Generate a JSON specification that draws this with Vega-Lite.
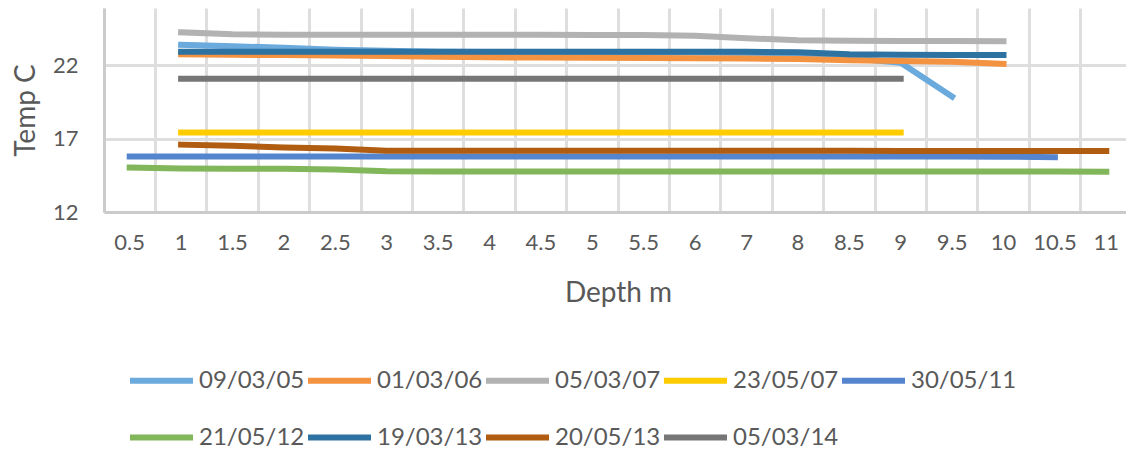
{
  "$schema": "https://vega.github.io/schema/vega-lite/v6.json",
  "width": 1022,
  "height": 204,
  "autosize": {"type": "none"},
  "padding": {"left": 104, "top": 8, "right": 0, "bottom": 241},
  "background": "white",
  "config": {
    "font": "Lato",
    "view": {"stroke": null}
  },
  "data": {
    "values": [
      {"date": "09/03/05", "depth": 1, "temp": 23.39},
      {"date": "09/03/05", "depth": 1.5, "temp": 23.29},
      {"date": "09/03/05", "depth": 2, "temp": 23.2},
      {"date": "09/03/05", "depth": 2.5, "temp": 23.06},
      {"date": "09/03/05", "depth": 3, "temp": 22.98},
      {"date": "09/03/05", "depth": 3.5, "temp": 22.92},
      {"date": "09/03/05", "depth": 4, "temp": 22.9},
      {"date": "09/03/05", "depth": 4.5, "temp": 22.89},
      {"date": "09/03/05", "depth": 5, "temp": 22.88},
      {"date": "09/03/05", "depth": 5.5, "temp": 22.87},
      {"date": "09/03/05", "depth": 6, "temp": 22.86},
      {"date": "09/03/05", "depth": 7, "temp": 22.83},
      {"date": "09/03/05", "depth": 8, "temp": 22.78},
      {"date": "09/03/05", "depth": 8.5, "temp": 22.5},
      {"date": "09/03/05", "depth": 9, "temp": 22.17},
      {"date": "09/03/05", "depth": 9.5, "temp": 19.86},

      {"date": "01/03/06", "depth": 1, "temp": 22.75},
      {"date": "01/03/06", "depth": 1.5, "temp": 22.71},
      {"date": "01/03/06", "depth": 2, "temp": 22.69},
      {"date": "01/03/06", "depth": 2.5, "temp": 22.67},
      {"date": "01/03/06", "depth": 3, "temp": 22.63},
      {"date": "01/03/06", "depth": 3.5, "temp": 22.58},
      {"date": "01/03/06", "depth": 4, "temp": 22.54},
      {"date": "01/03/06", "depth": 4.5, "temp": 22.52},
      {"date": "01/03/06", "depth": 5, "temp": 22.51},
      {"date": "01/03/06", "depth": 5.5, "temp": 22.5},
      {"date": "01/03/06", "depth": 6, "temp": 22.48},
      {"date": "01/03/06", "depth": 7, "temp": 22.46},
      {"date": "01/03/06", "depth": 8, "temp": 22.42},
      {"date": "01/03/06", "depth": 8.5, "temp": 22.34},
      {"date": "01/03/06", "depth": 9, "temp": 22.29},
      {"date": "01/03/06", "depth": 9.5, "temp": 22.24},
      {"date": "01/03/06", "depth": 10, "temp": 22.1},

      {"date": "05/03/07", "depth": 1, "temp": 24.24},
      {"date": "05/03/07", "depth": 1.5, "temp": 24.11},
      {"date": "05/03/07", "depth": 2, "temp": 24.07},
      {"date": "05/03/07", "depth": 2.5, "temp": 24.07},
      {"date": "05/03/07", "depth": 3, "temp": 24.07},
      {"date": "05/03/07", "depth": 3.5, "temp": 24.07},
      {"date": "05/03/07", "depth": 4, "temp": 24.07},
      {"date": "05/03/07", "depth": 4.5, "temp": 24.07},
      {"date": "05/03/07", "depth": 5, "temp": 24.06},
      {"date": "05/03/07", "depth": 5.5, "temp": 24.06},
      {"date": "05/03/07", "depth": 6, "temp": 24.01},
      {"date": "05/03/07", "depth": 7, "temp": 23.84},
      {"date": "05/03/07", "depth": 8, "temp": 23.7},
      {"date": "05/03/07", "depth": 8.5, "temp": 23.67},
      {"date": "05/03/07", "depth": 9, "temp": 23.65},
      {"date": "05/03/07", "depth": 9.5, "temp": 23.65},
      {"date": "05/03/07", "depth": 10, "temp": 23.63},

      {"date": "23/05/07", "depth": 1, "temp": 17.41},
      {"date": "23/05/07", "depth": 1.5, "temp": 17.41},
      {"date": "23/05/07", "depth": 2, "temp": 17.41},
      {"date": "23/05/07", "depth": 2.5, "temp": 17.41},
      {"date": "23/05/07", "depth": 3, "temp": 17.41},
      {"date": "23/05/07", "depth": 3.5, "temp": 17.41},
      {"date": "23/05/07", "depth": 4, "temp": 17.41},
      {"date": "23/05/07", "depth": 4.5, "temp": 17.41},
      {"date": "23/05/07", "depth": 5, "temp": 17.41},
      {"date": "23/05/07", "depth": 5.5, "temp": 17.41},
      {"date": "23/05/07", "depth": 6, "temp": 17.41},
      {"date": "23/05/07", "depth": 7, "temp": 17.41},
      {"date": "23/05/07", "depth": 8, "temp": 17.41},
      {"date": "23/05/07", "depth": 8.5, "temp": 17.41},
      {"date": "23/05/07", "depth": 9, "temp": 17.41},

      {"date": "30/05/11", "depth": 0.5, "temp": 15.78},
      {"date": "30/05/11", "depth": 1, "temp": 15.78},
      {"date": "30/05/11", "depth": 1.5, "temp": 15.78},
      {"date": "30/05/11", "depth": 2, "temp": 15.78},
      {"date": "30/05/11", "depth": 2.5, "temp": 15.78},
      {"date": "30/05/11", "depth": 3, "temp": 15.78},
      {"date": "30/05/11", "depth": 3.5, "temp": 15.78},
      {"date": "30/05/11", "depth": 4, "temp": 15.78},
      {"date": "30/05/11", "depth": 4.5, "temp": 15.78},
      {"date": "30/05/11", "depth": 5, "temp": 15.78},
      {"date": "30/05/11", "depth": 5.5, "temp": 15.78},
      {"date": "30/05/11", "depth": 6, "temp": 15.78},
      {"date": "30/05/11", "depth": 7, "temp": 15.78},
      {"date": "30/05/11", "depth": 8, "temp": 15.78},
      {"date": "30/05/11", "depth": 8.5, "temp": 15.78},
      {"date": "30/05/11", "depth": 9, "temp": 15.78},
      {"date": "30/05/11", "depth": 9.5, "temp": 15.78},
      {"date": "30/05/11", "depth": 10, "temp": 15.77},
      {"date": "30/05/11", "depth": 10.5, "temp": 15.74},

      {"date": "21/05/12", "depth": 0.5, "temp": 15.03},
      {"date": "21/05/12", "depth": 1, "temp": 14.97},
      {"date": "21/05/12", "depth": 1.5, "temp": 14.95},
      {"date": "21/05/12", "depth": 2, "temp": 14.94},
      {"date": "21/05/12", "depth": 2.5, "temp": 14.9},
      {"date": "21/05/12", "depth": 3, "temp": 14.77},
      {"date": "21/05/12", "depth": 3.5, "temp": 14.76},
      {"date": "21/05/12", "depth": 4, "temp": 14.76},
      {"date": "21/05/12", "depth": 4.5, "temp": 14.76},
      {"date": "21/05/12", "depth": 5, "temp": 14.76},
      {"date": "21/05/12", "depth": 5.5, "temp": 14.76},
      {"date": "21/05/12", "depth": 6, "temp": 14.76},
      {"date": "21/05/12", "depth": 7, "temp": 14.76},
      {"date": "21/05/12", "depth": 8, "temp": 14.76},
      {"date": "21/05/12", "depth": 8.5, "temp": 14.76},
      {"date": "21/05/12", "depth": 9, "temp": 14.76},
      {"date": "21/05/12", "depth": 9.5, "temp": 14.76},
      {"date": "21/05/12", "depth": 10, "temp": 14.76},
      {"date": "21/05/12", "depth": 10.5, "temp": 14.76},
      {"date": "21/05/12", "depth": 11, "temp": 14.75},

      {"date": "19/03/13", "depth": 1, "temp": 22.92},
      {"date": "19/03/13", "depth": 1.5, "temp": 22.92},
      {"date": "19/03/13", "depth": 2, "temp": 22.92},
      {"date": "19/03/13", "depth": 2.5, "temp": 22.92},
      {"date": "19/03/13", "depth": 3, "temp": 22.92},
      {"date": "19/03/13", "depth": 3.5, "temp": 22.92},
      {"date": "19/03/13", "depth": 4, "temp": 22.92},
      {"date": "19/03/13", "depth": 4.5, "temp": 22.92},
      {"date": "19/03/13", "depth": 5, "temp": 22.92},
      {"date": "19/03/13", "depth": 5.5, "temp": 22.92},
      {"date": "19/03/13", "depth": 6, "temp": 22.92},
      {"date": "19/03/13", "depth": 7, "temp": 22.92},
      {"date": "19/03/13", "depth": 8, "temp": 22.88},
      {"date": "19/03/13", "depth": 8.5, "temp": 22.75},
      {"date": "19/03/13", "depth": 9, "temp": 22.71},
      {"date": "19/03/13", "depth": 9.5, "temp": 22.7},
      {"date": "19/03/13", "depth": 10, "temp": 22.69},

      {"date": "20/05/13", "depth": 1, "temp": 16.59},
      {"date": "20/05/13", "depth": 1.5, "temp": 16.52},
      {"date": "20/05/13", "depth": 2, "temp": 16.39},
      {"date": "20/05/13", "depth": 2.5, "temp": 16.32},
      {"date": "20/05/13", "depth": 3, "temp": 16.18},
      {"date": "20/05/13", "depth": 3.5, "temp": 16.18},
      {"date": "20/05/13", "depth": 4, "temp": 16.18},
      {"date": "20/05/13", "depth": 4.5, "temp": 16.18},
      {"date": "20/05/13", "depth": 5, "temp": 16.18},
      {"date": "20/05/13", "depth": 5.5, "temp": 16.18},
      {"date": "20/05/13", "depth": 6, "temp": 16.18},
      {"date": "20/05/13", "depth": 7, "temp": 16.17},
      {"date": "20/05/13", "depth": 8, "temp": 16.17},
      {"date": "20/05/13", "depth": 8.5, "temp": 16.17},
      {"date": "20/05/13", "depth": 9, "temp": 16.16},
      {"date": "20/05/13", "depth": 9.5, "temp": 16.16},
      {"date": "20/05/13", "depth": 10, "temp": 16.16},
      {"date": "20/05/13", "depth": 10.5, "temp": 16.16},
      {"date": "20/05/13", "depth": 11, "temp": 16.15},

      {"date": "05/03/14", "depth": 1, "temp": 21.08},
      {"date": "05/03/14", "depth": 1.5, "temp": 21.08},
      {"date": "05/03/14", "depth": 2, "temp": 21.08},
      {"date": "05/03/14", "depth": 2.5, "temp": 21.08},
      {"date": "05/03/14", "depth": 3, "temp": 21.08},
      {"date": "05/03/14", "depth": 3.5, "temp": 21.08},
      {"date": "05/03/14", "depth": 4, "temp": 21.08},
      {"date": "05/03/14", "depth": 4.5, "temp": 21.08},
      {"date": "05/03/14", "depth": 5, "temp": 21.08},
      {"date": "05/03/14", "depth": 5.5, "temp": 21.08},
      {"date": "05/03/14", "depth": 6, "temp": 21.08},
      {"date": "05/03/14", "depth": 7, "temp": 21.08},
      {"date": "05/03/14", "depth": 8, "temp": 21.08},
      {"date": "05/03/14", "depth": 8.5, "temp": 21.08},
      {"date": "05/03/14", "depth": 9, "temp": 21.08}
    ]
  },
  "mark": {"type": "line", "strokeWidth": 6, "strokeCap": "square"},
  "encoding": {
    "x": {
      "field": "depth",
      "type": "ordinal",
      "scale": {"type": "band", "paddingInner": 0, "paddingOuter": 0, "range": [0, 1028]},
      "axis": {
        "title": "Depth m",
        "bandPosition": 0,
        "ticks": false,
        "tickSize": 0,
        "labelAngle": 0,
        "labelOverlap": false,
        "labelFontSize": 22,
        "labelColor": "#595959",
        "labelPadding": 20,
        "grid": true,
        "gridColor": "#dedede",
        "gridWidth": 3,
        "domainColor": "#cbcbcb",
        "domainWidth": 3,
        "titleFontSize": 28,
        "titleFontWeight": "normal",
        "titleColor": "#595959",
        "titlePadding": 26
      }
    },
    "y": {
      "field": "temp",
      "type": "quantitative",
      "scale": {"domain": [12, 25.9], "zero": false, "nice": false},
      "axis": {
        "title": "Temp C",
        "values": [12, 17, 22],
        "ticks": false,
        "tickSize": 0,
        "labelFontSize": 22,
        "labelColor": "#595959",
        "labelPadding": 26,
        "grid": true,
        "gridColor": "#dedede",
        "gridWidth": 3,
        "domainColor": "#cbcbcb",
        "domainWidth": 3,
        "titleFontSize": 28,
        "titleFontWeight": "normal",
        "titleColor": "#595959",
        "titlePadding": 12
      }
    },
    "color": {
      "field": "date",
      "type": "nominal",
      "scale": {
        "domain": ["09/03/05", "01/03/06", "05/03/07", "23/05/07", "30/05/11", "21/05/12", "19/03/13", "20/05/13", "05/03/14"],
        "range": ["#6baadc", "#f39240", "#b2b2b2", "#ffcc00", "#5585ce", "#82b65a", "#2e72a2", "#b05c11", "#767676"]
      },
      "legend": {
        "orient": "none",
        "legendX": 23,
        "legendY": 338,
        "direction": "horizontal",
        "columns": 5,
        "title": null,
        "symbolType": "stroke",
        "symbolSize": 3969,
        "symbolStrokeWidth": 6,
        "labelFontSize": 24,
        "labelColor": "#595959",
        "labelOffset": 3,
        "labelLimit": 0,
        "columnPadding": -9,
        "rowPadding": 10,
        "padding": 0
      }
    }
  }
}
